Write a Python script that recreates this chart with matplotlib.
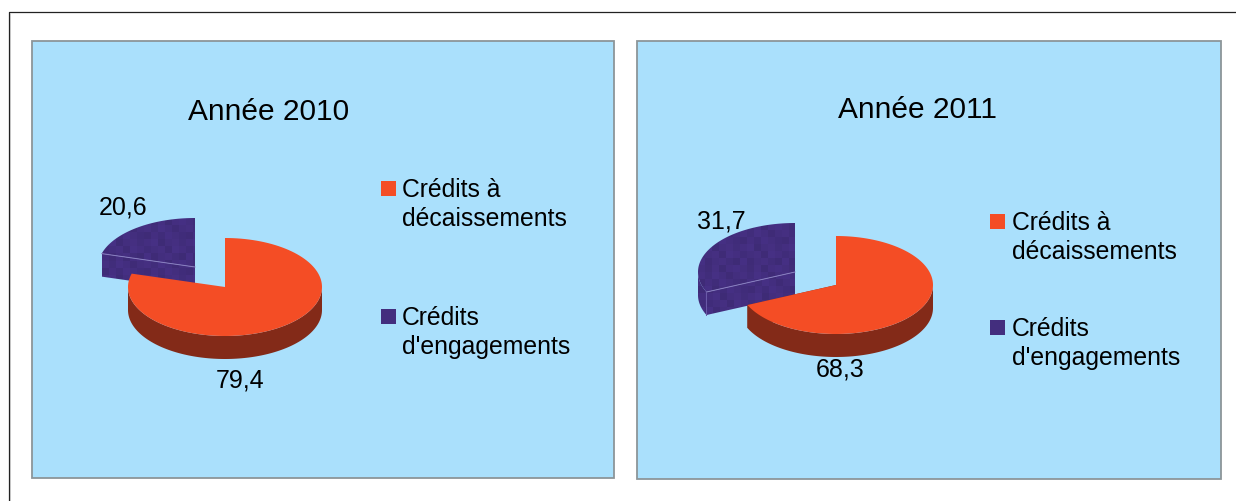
import numpy as np
import matplotlib
matplotlib.use('Agg')
import matplotlib.pyplot as plt
from matplotlib.patches import Polygon, Rectangle

plt.rcParams['font.family'] = ['Liberation Sans', 'DejaVu Sans']

titles = ['Année 2010', 'Année 2011']
labels = ['Crédits à\ndécaissements', "Crédits\nd'engagements"]
decaissements = [79.4, 68.3]
engagements = [20.6, 31.7]
value_labels = [['79,4', '20,6'], ['68,3', '31,7']]

W, H = 1236, 502
RX, RY, DEPTH = 97, 49, 23
ORANGE = '#F44D25'
ORANGE_DARK = '#832A18'
NAVY = '#432E7E'
BG = '#AAE0FC'

# tile for the mottled navy picture fill
tile = np.array([
    [0.00, -.04, 0.03, -.06, 0.02, 0.04],
    [0.03, -.02, 0.05, 0.01, -.05, 0.00],
    [-.05, 0.02, -.03, 0.04, 0.00, -.03],
    [0.02, 0.05, -.06, 0.00, 0.03, -.02],
    [-.03, 0.00, 0.03, -.05, 0.05, 0.02],
    [0.04, -.05, 0.00, 0.03, -.02, -.06],
])


def arc(cx, cy, a0, a1, dy=0, n=120):
    t = np.radians(np.linspace(a0, a1, n))
    return np.column_stack([cx + RX * np.cos(t), cy - RY * np.sin(t) + dy])


def textured(ax, pts, zorder):
    base = np.array(matplotlib.colors.to_rgb(NAVY))
    shade = np.tile(tile, (4, 5))
    img = np.clip(base[None, None, :] * (1 + shade[:, :, None]), 0, 1)
    x0, y0 = pts[:, 0].min(), pts[:, 1].min()
    h, w = shade.shape
    im = ax.imshow(img, extent=(x0, x0 + w * 7, y0 + h * 7, y0), zorder=zorder,
                   interpolation='nearest', aspect='auto')
    clip = Polygon(pts, closed=True, transform=ax.transData, fc='none', ec='none')
    ax.add_patch(clip)
    im.set_clip_path(clip)


def draw_pie(ax, center, navy_center, value):
    # exploded navy slice first, orange goes over it
    sweep = value[0] / sum(value) * 360
    end = 90 - sweep + 360
    nx, ny = navy_center
    cx, cy = center

    rim = arc(nx, ny, end, 90)
    top = np.vstack([[nx, ny], rim])
    outer = np.vstack([arc(nx, ny, 180, end), arc(nx, ny, end, 180, DEPTH)]) if end > 180 else None
    p0 = arc(nx, ny, end, end, n=1)[0]
    face = np.array([[nx, ny], p0, p0 + [0, DEPTH], [nx, ny + DEPTH]])
    if outer is not None:
        textured(ax, outer, 2)
    textured(ax, face, 2)
    textured(ax, top, 2)
    ax.plot([p0[0], nx], [p0[1], ny], color='#8A7FC0', lw=0.7, zorder=3)
    if outer is not None:
        ax.plot([p0[0], p0[0]], [p0[1], p0[1] + DEPTH], color='#6A5AA8', lw=0.7, zorder=3)

    # orange slice: side band then top
    lo = max(end, 180)
    band = np.vstack([arc(cx, cy, lo, 360), arc(cx, cy, 360, lo, DEPTH)])
    ax.add_patch(Polygon(band, closed=True, fc=ORANGE_DARK, ec='none', zorder=4))
    if end > 180:
        p = arc(cx, cy, end, end, n=1)[0]
        ax.add_patch(Polygon([p, [cx, cy], [cx, cy + DEPTH], p + [0, DEPTH]], closed=True,
                             fc=ORANGE_DARK, ec='none', zorder=3.5))
    top_o = np.vstack([[cx, cy], arc(cx, cy, 90, end - 360)])
    ax.add_patch(Polygon(top_o, closed=True, fc=ORANGE, ec='none', zorder=5))


fig = plt.figure(figsize=(W / 100, H / 100), dpi=100, facecolor='white')
ax = fig.add_axes([0, 0, 1, 1])

# outer frame
ax.plot([8.5, 8.5, 1235.5], [502, 12.5, 12.5], color='#222222', lw=0.9, zorder=1)
ax.plot([9.8, 9.8], [502, 13.5], color='#C4C4C4', lw=0.7, zorder=1)

panels = [(32, 42, 614, 479), (637, 42, 1221, 480)]
title_pos = [(269, 112), (918, 110)]
centers = [(225, 288), (836, 286)]
navy_centers = [(195, 268), (795, 273)]
out_pos = [(240, 381), (840, 370)]
in_pos = [(123, 208), (721, 222)]
leg_pos = [[(381, 189), (381, 317)], [(990, 222), (990, 328)]]

for i in range(2):
    x0, y0, x1, y1 = panels[i]
    ax.add_patch(Rectangle((x0, y0), x1 - x0, y1 - y0, fc=BG, ec='#8C9599', lw=1.3, zorder=1))
    ax.text(*title_pos[i], titles[i], fontsize=21.5, ha='center', va='center', color='black', zorder=6)
    draw_pie(ax, centers[i], navy_centers[i], [decaissements[i], engagements[i]])
    ax.text(*out_pos[i], value_labels[i][0], fontsize=18, ha='center', va='center', color='black', zorder=6)
    ax.text(*in_pos[i], value_labels[i][1], fontsize=18, ha='center', va='center', color='black', zorder=6)
    for j, col in enumerate([ORANGE, NAVY]):
        lx, ly = leg_pos[i][j]
        ax.add_patch(Rectangle((lx, ly - 7), 15, 15, fc=col, ec='none', zorder=6))
        ax.text(lx + 21 + i, ly - 11, labels[j], fontsize=17.8, ha='left', va='top',
                linespacing=1.26, color='black', zorder=6)

ax.set_xlim(0, W)
ax.set_ylim(H, 0)
ax.axis('off')
fig.savefig('out.png', dpi=100, facecolor='white')
